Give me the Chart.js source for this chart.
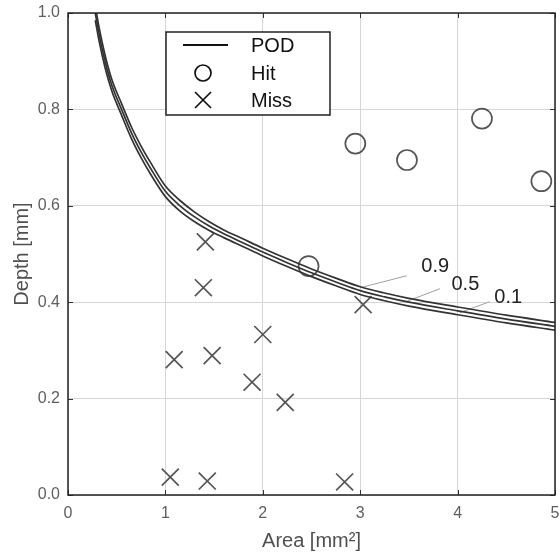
<!DOCTYPE html>
<html><head><meta charset="utf-8">
<script src="https://cdn.jsdelivr.net/npm/chart.js@4.4.1/dist/chart.umd.min.js"></script>
<style>html,body{margin:0;padding:0;background:#fff;overflow:hidden}#wrap{width:560px;height:556px;position:relative}</style>
</head><body><div id="wrap"><canvas id="c"></canvas></div>
<script>
// ---- data ----
const curveArea = [0.28,0.32,0.38,0.45,0.55,0.65,0.75,0.85,1.0,1.15,1.3,1.45,1.6,1.8,2.0,2.25,2.5,2.75,3.0,3.25,3.5,4.0,4.5,5.0];
const pod09 = [1.015,0.969,0.913,0.862,0.812,0.764,0.724,0.689,0.641,0.611,0.587,0.567,0.550,0.531,0.512,0.490,0.469,0.450,0.432,0.419,0.408,0.390,0.373,0.358];
const pod05 = [1.000,0.955,0.900,0.850,0.800,0.752,0.712,0.677,0.630,0.600,0.577,0.558,0.542,0.523,0.504,0.482,0.461,0.442,0.424,0.411,0.400,0.382,0.365,0.350];
const pod01 = [0.985,0.941,0.887,0.838,0.788,0.740,0.700,0.665,0.619,0.589,0.567,0.549,0.534,0.515,0.496,0.474,0.453,0.434,0.416,0.403,0.392,0.374,0.357,0.342];
const hitArea  = [2.47,2.95,3.48,4.25,4.86];
const hitDepth = [0.475,0.729,0.695,0.781,0.651];
const missArea  = [1.41,1.39,1.09,1.48,2.00,1.89,2.23,3.03,1.05,1.43,2.84];
const missDepth = [0.525,0.430,0.281,0.289,0.333,0.234,0.192,0.395,0.037,0.029,0.027];
const podLabels = ['0.9','0.5','0.1'];
const podLabelArea  = [3.77,4.08,4.52];
const podLabelDepth = [0.474,0.436,0.410];
const leaderStartArea  = [3.48,3.82,4.33];
const leaderStartDepth = [0.455,0.428,0.401];
const leaderEndArea    = [3.00,3.48,4.02];
const leaderEndDepth   = [0.430,0.402,0.378];
const xTicks = [0,1,2,3,4,5];
const yTicks = [0,0.2,0.4,0.6,0.8,1.0];
const legendNames = ['POD','Hit','Miss'];

const toXY = (xs, ys) => xs.map((x, i) => ({x, y: ys[i]}));
const curveColor = '#333';
const markColor = '#555';
const FONT = '"Liberation Sans", Arial, sans-serif';

const datasets = [
  {label:'POD 0.9', type:'line', data: toXY(curveArea, pod09), borderColor: curveColor, borderWidth: 1.7, pointRadius: 0, cubicInterpolationMode: 'monotone', fill:false},
  {label:'POD 0.5', type:'line', data: toXY(curveArea, pod05), borderColor: curveColor, borderWidth: 1.7, pointRadius: 0, cubicInterpolationMode: 'monotone', fill:false},
  {label:'POD 0.1', type:'line', data: toXY(curveArea, pod01), borderColor: curveColor, borderWidth: 1.7, pointRadius: 0, cubicInterpolationMode: 'monotone', fill:false},
  {label:'Hit', type:'scatter', data: toXY(hitArea, hitDepth), pointStyle:'circle', pointRadius: 10, borderColor: markColor, borderWidth: 1.7, backgroundColor:'rgba(0,0,0,0)'},
  {label:'Miss', type:'scatter', data: toXY(missArea, missDepth), pointStyle:'crossRot', pointRadius: 12, borderColor: markColor, borderWidth: 1.7, backgroundColor:'rgba(0,0,0,0)'}
];
podLabels.forEach((l, i) => {
  datasets.push({label:'leader ' + l, type:'line', data: [{x: leaderStartArea[i], y: leaderStartDepth[i]}, {x: leaderEndArea[i], y: leaderEndDepth[i]}],
    borderColor:'#a0a0a0', borderWidth: 1, pointRadius: 0, fill:false});
});

const frame = {
  id: 'frame',
  afterDatasetsDraw(chart) {
    const {ctx, chartArea: a, scales} = chart;
    ctx.save();
    // inner tick marks
    ctx.strokeStyle = '#333';
    ctx.lineWidth = 1;
    ctx.beginPath();
    scales.x.ticks.forEach(t => {
      const px = Math.round(scales.x.getPixelForValue(t.value)) + 0.5;
      ctx.moveTo(px, a.bottom); ctx.lineTo(px, a.bottom - 5);
      ctx.moveTo(px, a.top); ctx.lineTo(px, a.top + 5);
    });
    scales.y.ticks.forEach(t => {
      const py = Math.round(scales.y.getPixelForValue(t.value)) + 0.5;
      ctx.moveTo(a.left, py); ctx.lineTo(a.left + 5, py);
      ctx.moveTo(a.right, py); ctx.lineTo(a.right - 5, py);
    });
    ctx.stroke();
    ctx.strokeStyle = '#222';
    ctx.lineWidth = 1.5;
    ctx.strokeRect(a.left, a.top, a.right - a.left, a.bottom - a.top);
    // POD level labels
    ctx.fillStyle = '#222';
    ctx.font = '20px ' + FONT;
    ctx.textAlign = 'center';
    ctx.textBaseline = 'middle';
    podLabels.forEach((l, i) => {
      ctx.fillText(l, scales.x.getPixelForValue(podLabelArea[i]), scales.y.getPixelForValue(podLabelDepth[i]));
    });
    // legend box
    const lx = a.left + 98, ly = a.top + 19, lw = 164, lh = 83;
    ctx.fillStyle = '#fff';
    ctx.fillRect(lx, ly, lw, lh);
    ctx.strokeStyle = '#222';
    ctx.lineWidth = 1.5;
    ctx.strokeRect(lx, ly, lw, lh);
    const cx = lx + 37;
    const rows = [ly + 13, ly + 41, ly + 68];
    ctx.strokeStyle = '#111';
    ctx.lineWidth = 2;
    ctx.beginPath(); ctx.moveTo(lx + 17, rows[0]); ctx.lineTo(lx + 62, rows[0]); ctx.stroke();
    ctx.lineWidth = 1.7;
    ctx.beginPath(); ctx.arc(cx, rows[1], 8, 0, Math.PI * 2); ctx.stroke();
    ctx.beginPath();
    ctx.moveTo(cx - 8, rows[2] - 8); ctx.lineTo(cx + 8, rows[2] + 8);
    ctx.moveTo(cx + 8, rows[2] - 8); ctx.lineTo(cx - 8, rows[2] + 8);
    ctx.stroke();
    ctx.fillStyle = '#111';
    ctx.textAlign = 'left';
    ctx.font = '20px ' + FONT;
    legendNames.forEach((n, i) => ctx.fillText(n, lx + 85, rows[i] + 1));
    ctx.restore();
  }
};

function noPad(s) { s.paddingLeft = 0; s.paddingRight = 0; s.paddingTop = 0; s.paddingBottom = 0; }

new Chart(document.getElementById('c'), {
  data: {datasets},
  options: {
    responsive: true,
    maintainAspectRatio: false,
    animation: false,
    layout: {autoPadding: false, padding: {top: 13, right: 5, left: 0, bottom: 0}},
    plugins: {legend: {display: false}, tooltip: {enabled: false}},
    scales: {
      x: {
        type: 'linear', min: 0, max: 5,
        afterBuildTicks(s) { s.ticks = xTicks.map(v => ({value: v})); },
        afterFit(s) { s.height = 61; noPad(s); },
        grid: {color: '#d6d6d6', lineWidth: 1, drawTicks: false},
        border: {display: false},
        ticks: {color: '#606060', font: {size: 16, family: FONT}, padding: 9, callback: v => String(v)},
        title: {display: true, text: 'Area [mm²]', color: '#505050', font: {size: 20, family: FONT}, padding: {top: 0, bottom: 3}}
      },
      y: {
        type: 'linear', min: 0, max: 1,
        afterBuildTicks(s) { s.ticks = yTicks.map(v => ({value: v})); },
        afterFit(s) { s.width = 68; noPad(s); },
        grid: {color: '#d6d6d6', lineWidth: 1, drawTicks: false},
        border: {display: false},
        ticks: {color: '#606060', font: {size: 16, family: FONT}, padding: 8, callback: v => Number(v).toFixed(1)},
        title: {display: true, text: 'Depth [mm]', color: '#505050', font: {size: 20, family: FONT}, padding: {top: 10, bottom: 0}}
      }
    }
  },
  plugins: [frame]
});
</script>
</body></html>
